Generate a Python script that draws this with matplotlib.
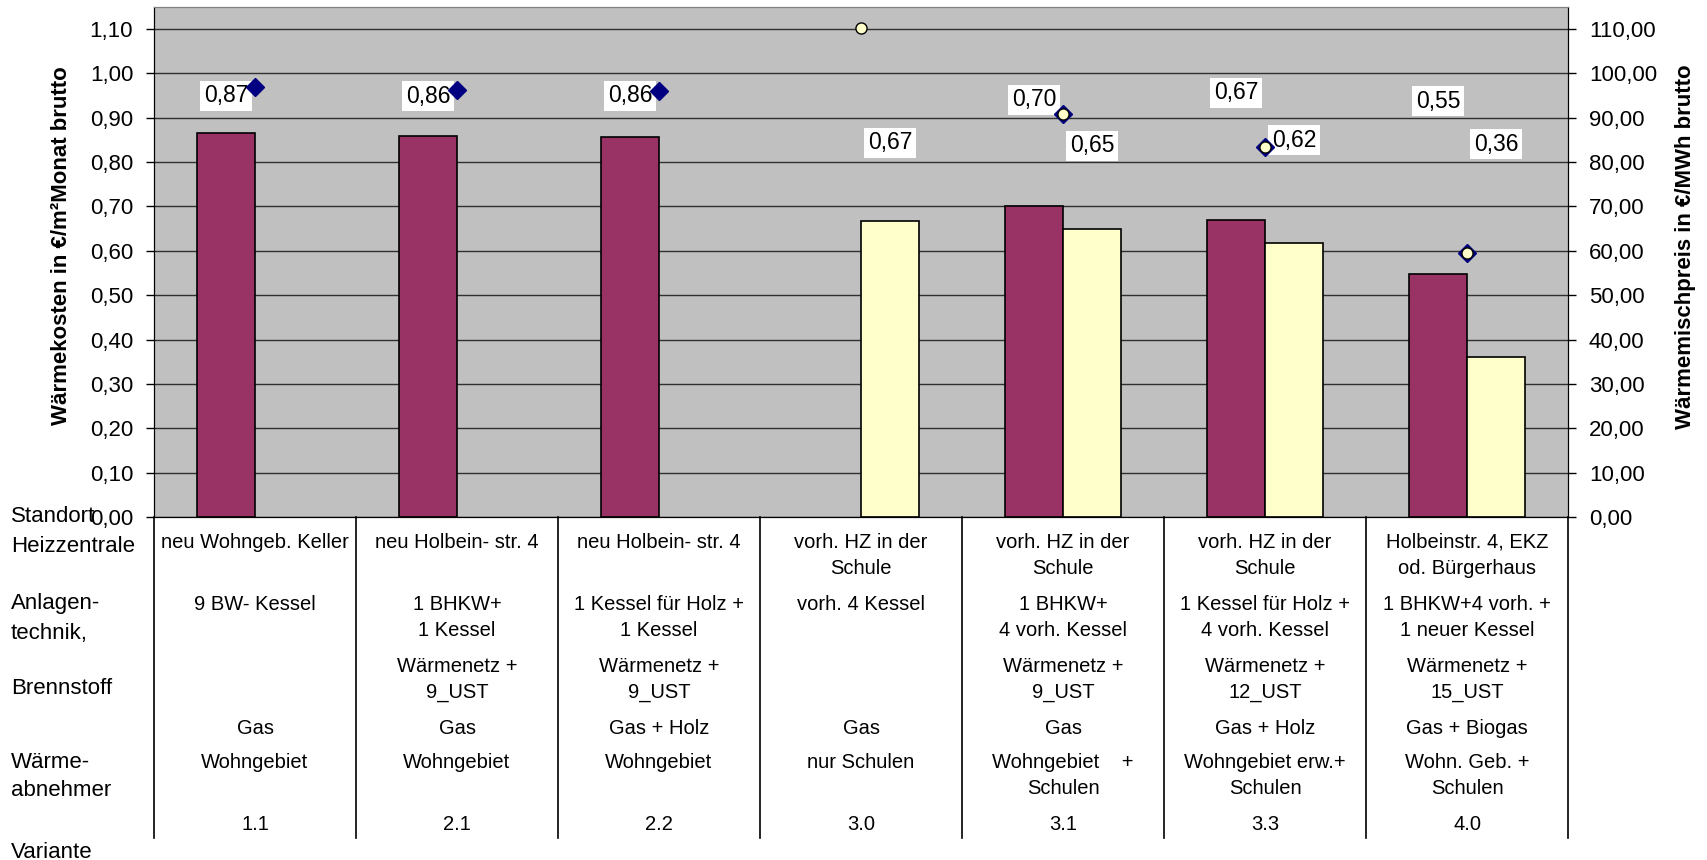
import numpy as np
import matplotlib
matplotlib.use('Agg')
import matplotlib.pyplot as plt
from matplotlib.transforms import blended_transform_factory
from matplotlib.lines import Line2D

plt.rcParams['font.family'] = ['Liberation Sans', 'DejaVu Sans']

W, H = 1707, 860

varianten = ['1.1', '2.1', '2.2', '3.0', '3.1', '3.3', '4.0']
standort = ['neu Wohngeb. Keller', 'neu Holbein- str. 4', 'neu Holbein- str. 4',
            'vorh. HZ in der\nSchule', 'vorh. HZ in der\nSchule', 'vorh. HZ in der\nSchule',
            'Holbeinstr. 4, EKZ\nod. Bürgerhaus']
anlagen = ['9 BW- Kessel', '1 BHKW+\n1 Kessel', '1 Kessel für Holz +\n1 Kessel',
           'vorh. 4 Kessel', '1 BHKW+\n4 vorh. Kessel', '1 Kessel für Holz +\n4 vorh. Kessel',
           '1 BHKW+4 vorh. +\n1 neuer Kessel']
netz = ['', 'Wärmenetz +\n9_UST', 'Wärmenetz +\n9_UST', '', 'Wärmenetz +\n9_UST',
        'Wärmenetz +\n12_UST', 'Wärmenetz +\n15_UST']
brennstoff = ['Gas', 'Gas', 'Gas + Holz', 'Gas', 'Gas', 'Gas + Holz', 'Gas + Biogas']
abnehmer = ['Wohngebiet', 'Wohngebiet', 'Wohngebiet', 'nur Schulen', 'Wohngebiet    +\nSchulen',
            'Wohngebiet erw.+\nSchulen', 'Wohn. Geb. +\nSchulen']

# Wärmekosten in €/m²Monat (left axis)
kosten_neu = [0.866, 0.859, 0.857, np.nan, 0.701, 0.670, 0.547]
kosten_vorh = [np.nan, np.nan, np.nan, 0.666, 0.648, 0.617, 0.361]
# Wärmemischpreis in €/MWh (right axis)
preis_neu = [97.0, 96.3, 96.0, np.nan, 90.8, 83.3, 59.4]
preis_vorh = [np.nan, np.nan, np.nan, 110.3, 90.8, 83.3, 59.4]

# where the value boxes sit (left axis units)
label_y_neu = [0.949, 0.948, 0.949, np.nan, 0.940, 0.956, 0.937]
label_y_vorh = [np.nan, np.nan, np.nan, 0.843, 0.837, 0.849, 0.840]

PURPLE = '#993366'
CREAM = '#FFFFCC'
NAVY = '#000080'


def fy(px):
    return 1 - px / H


def comma(v, fmt='{:.2f}'):
    return fmt.format(v).replace('.', ',')


fig = plt.figure(figsize=(W / 100, H / 100), dpi=100)
ax = fig.add_axes([154 / W, fy(517), (1568 - 154) / W, (517 - 6.7) / H])
ax.set_facecolor('#C0C0C0')
ax.set_axisbelow(True)

x = np.arange(len(varianten))
bw = 0.287
ax.bar(x - bw / 2, kosten_neu, bw, color=PURPLE, edgecolor='black', linewidth=1.2, zorder=2)
ax.bar(x + bw / 2, kosten_vorh, bw, color=CREAM, edgecolor='black', linewidth=1.2, zorder=2)

ax.set_xlim(-0.5, len(varianten) - 0.5)
ax.set_ylim(0, 1.15)
yt = np.arange(0, 1.11, 0.1)
ax.set_yticks(yt)
ax.set_yticklabels([comma(v) for v in yt])
ax.set_xticks([])
ax.grid(axis='y', color='#303030', linewidth=1.0)
ax.tick_params(axis='y', direction='out', length=6, width=1, pad=9, labelsize=16)
for s in ['left', 'right', 'bottom']:
    ax.spines[s].set_color('black')
ax.spines['top'].set_color('#808080')

for i in range(len(varianten)):
    if not np.isnan(kosten_neu[i]):
        ax.text(x[i] - bw / 2, label_y_neu[i], comma(kosten_neu[i]), ha='center', va='center',
                fontsize=16.5, zorder=5,
                bbox=dict(boxstyle='square,pad=0.15', facecolor='white', edgecolor='none'))
    if not np.isnan(kosten_vorh[i]):
        ax.text(x[i] + bw / 2, label_y_vorh[i], comma(kosten_vorh[i]), ha='center', va='center',
                fontsize=16.5, zorder=5,
                bbox=dict(boxstyle='square,pad=0.15', facecolor='white', edgecolor='none'))

ax2 = ax.twinx()
ax2.set_ylim(0, 115)
yt2 = np.arange(0, 111, 10)
ax2.set_yticks(yt2)
ax2.set_yticklabels([comma(v) for v in yt2])
ax2.tick_params(axis='y', direction='out', length=6, width=1, pad=9, labelsize=16)
ax2.spines['top'].set_color('#808080')
ax2.spines['right'].set_color('black')
ax2.plot(x, preis_neu, ls='none', marker='D', markersize=9, color=NAVY, zorder=3)
ax2.plot(x, preis_vorh, ls='none', marker='o', markersize=8, markerfacecolor=CREAM,
         markeredgecolor='black', markeredgewidth=1, zorder=4)

fig.text(62 / W, fy(246), 'Wärmekosten in €/m²Monat brutto', rotation=90, ha='center', va='center',
         fontsize=16, fontweight='bold')
fig.text(1686 / W, fy(247), 'Wärmemischpreis in €/MWh brutto', rotation=90, ha='center', va='center',
         fontsize=16, fontweight='bold')

# table under the chart
tr = blended_transform_factory(ax.transData, fig.transFigure)
for b in np.arange(-0.5, len(varianten), 1.0):
    fig.add_artist(Line2D([b, b], [fy(517), fy(838)], transform=tr, color='black', linewidth=1.2))

rows = [(standort, 542), (anlagen, 604), (netz, 667), (brennstoff, 728), (abnehmer, 763),
        (varianten, 824)]
for cells, y0 in rows:
    for i, txt in enumerate(cells):
        for k, line in enumerate(txt.split('\n')):
            fig.text(x[i], fy(y0 + 26 * k), line, transform=tr, ha='center', va='center',
                     fontsize=14.5)

row_labels = [('Standort', 517), ('Heizzentrale', 547), ('Anlagen-', 604), ('technik,', 633),
              ('Brennstoff', 688), ('Wärme-', 762), ('abnehmer', 790), ('Variante', 852)]
for txt, y0 in row_labels:
    fig.text(11 / W, fy(y0), txt, ha='left', va='center', fontsize=16)

fig.savefig('out.png', dpi=100)
